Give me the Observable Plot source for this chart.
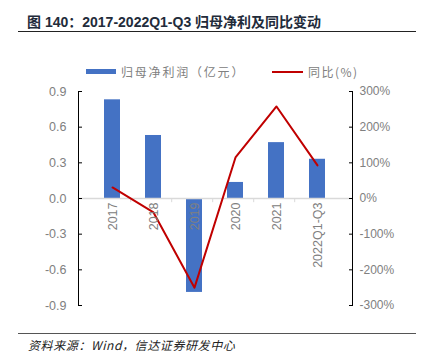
<!DOCTYPE html>
<html><head><meta charset="utf-8">
<script src="https://cdn.jsdelivr.net/npm/d3@7"></script>
<script src="https://cdn.jsdelivr.net/npm/@observablehq/plot@0.6"></script>
<style>
body{margin:0;background:#fff;font-family:"Liberation Sans",Arial,"Noto Sans CJK SC",sans-serif;}
#wrap{position:relative;width:428px;height:361px;overflow:hidden;}
#title{position:absolute;left:27px;top:11px;font-size:14px;font-weight:bold;color:#222b3a;font-family:"Liberation Sans","Noto Sans CJK SC",sans-serif;white-space:nowrap;}
.hr{position:absolute;left:18px;width:398px;height:1px;background:#222;}
#legend{position:absolute;top:63px;left:0;width:428px;height:18px;font-size:12px;color:#808080;font-family:"Noto Sans CJK SC",sans-serif;}
#legend span{position:absolute;white-space:nowrap;}
#foot{position:absolute;left:28px;top:336px;font-size:12px;letter-spacing:0.6px;font-style:italic;color:#222;font-family:"Noto Sans CJK SC",sans-serif;white-space:nowrap;}
#chart{position:absolute;left:0;top:0;}
</style></head>
<body><div id="wrap">
<div id="chart"></div>
<div id="title">图 140：2017-2022Q1-Q3 归母净利及同比变动</div>
<div class="hr" style="top:31px"></div>
<div id="legend">
 <span style="left:86px;top:6px;width:30px;height:5px;background:#4472C4"></span>
 <span style="left:121px;top:0px;letter-spacing:1.8px">归母净利润（亿元）</span>
 <span style="left:272px;top:8px;width:31px;height:2px;background:#C00000"></span>
 <span style="left:308px;top:0px;letter-spacing:1.5px">同比(%)</span>
</div>
<div class="hr" style="top:333px;background:#555"></div>
<div id="foot">资料来源：Wind，信达证券研发中心</div>
</div>
<script>
const categories = ["2017","2018","2019","2020","2021","2022Q1-Q3"];
const profit = [0.83, 0.53, -0.79, 0.135, 0.47, 0.33];
const yoy = [31, -39, -250, 115, 258, 93];
const leftTicks = [-0.9,-0.6,-0.3,0,0.3,0.6,0.9];
const rightTicks = [-300,-200,-100,0,100,200,300];

const ratio = 0.9/300;
const bars = categories.map((c,i)=>({c, v: profit[i]}));
const line = categories.map((c,i)=>({c, v: yoy[i]*ratio}));

const chart = Plot.plot({
  width: 428, height: 361,
  marginTop: 91, marginBottom: 56, marginLeft: 78, marginRight: 76,
  style: {fontFamily: "Liberation Sans, Arial, sans-serif", fontSize: "12px", color: "#808080", background: "transparent"},
  x: {domain: categories, padding: 0.6, axis: null, label: null},
  y: {type: "linear", domain: [-0.9, 0.9], axis: null, label: null},
  marks: [
    Plot.barY(bars, {x: "c", y: "v", fill: "#4472C4"}),
    Plot.ruleY([0], {stroke: "#d9d9d9", strokeWidth: 1.5}),
    Plot.ruleX(categories.slice(1), {x: d=>d, y1: 0, y2: -0.035, dx: -22.8, stroke: "#d9d9d9"}),
    Plot.line(line, {x: "c", y: "v", stroke: "#C00000", strokeWidth: 2}),
    Plot.text(categories, {x: d=>d, y: 0, text: d=>d, rotate: -90, textAnchor: "end", dy: 4, fill: "#808080", fontSize: 12.5}),
    Plot.axisY({anchor: "left", ticks: leftTicks, tickFormat: d => d.toFixed(1), tickSize: -4, tickPadding: 16, stroke: "#000", fill: "#808080", fontSize: 12.5, label: null}),
    Plot.axisY({anchor: "right", ticks: rightTicks.map(d=>d*ratio), tickFormat: d=>Math.round(d/ratio)+"%", tickSize: -4, tickPadding: 11, stroke: "#000", fill: "#808080", fontSize: 12, label: null}),
    Plot.frame({anchor: "left", stroke: "#000"}),
    Plot.frame({anchor: "right", stroke: "#000"})
  ]
});
document.getElementById("chart").appendChild(chart);
</script>
</body></html>
